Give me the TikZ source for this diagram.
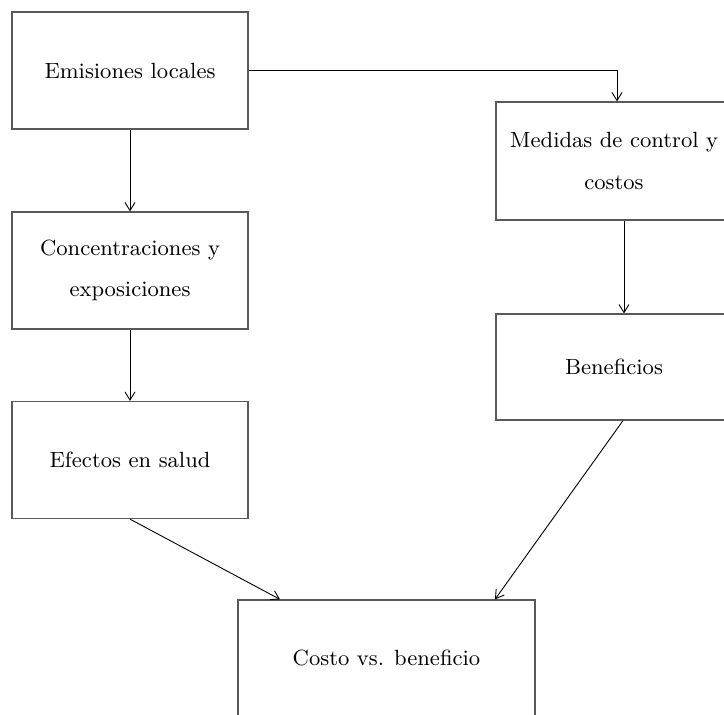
\documentclass[tikz,border=0pt]{standalone}
\usetikzlibrary{arrows.meta,calc}
\newdimen\pxu \pxu=0.409pt
\begin{document}
\begin{tikzpicture}[x=\pxu,y=-\pxu,
  box/.style={draw=black!65,line width=0.5pt,rectangle,inner sep=0pt,
    minimum width=236*\pxu,align=center,font=\fontsize{9}{16.8}\selectfont},
  arr/.style={line width=0.37pt,-{Straight Barb[length=3.3pt,width=4.1pt]}}]
\useasboundingbox (0,0) rectangle (724,715);
\node[box,minimum height=117*\pxu] (E) at (130,70.5) {Emisiones locales};
\node[box,minimum height=117*\pxu] (K) at (130,270.5) {Concentraciones y\\exposiciones};
\node[box,minimum height=117*\pxu] (F) at (130,460) {Efectos en salud};
\node[box,minimum height=118*\pxu] (M) at (614,161) {Medidas de control y\\costos};
\node[box,minimum height=106*\pxu] (B) at (614,367) {Beneficios};
\node[box,minimum width=297*\pxu,minimum height=116*\pxu] (C) at (386.5,658) {Costo vs. beneficio};
\draw[arr] (E.east) -| ([xshift=3*\pxu]M.north);
\draw[arr] (E.south) -- (K.north);
\draw[arr] (K.south) -- (F.north);
\draw[arr] ([xshift=10*\pxu]M.south) -- ([xshift=10*\pxu]B.north);
\draw[arr] (F.south) -- ([xshift=-106.5*\pxu]C.north);
\draw[arr] ([xshift=9*\pxu]B.south) -- ([xshift=108.5*\pxu]C.north);
\end{tikzpicture}
\end{document}
